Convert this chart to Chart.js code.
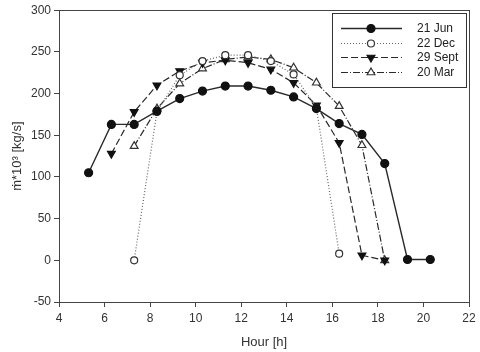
<!DOCTYPE html>
<html><head><meta charset="utf-8">
<script src="https://cdn.jsdelivr.net/npm/chart.js@4"></script>
<style>html,body{margin:0;padding:0;background:#fff}#wrap{width:480px;height:352px;position:relative}</style>
</head><body><div id="wrap"><canvas id="c" width="480" height="352"></canvas></div>
<script>
const seriesNames = ['21 Jun', '22 Dec', '29 Sept', '20 Mar'];
const junHours = [5.3, 6.3, 7.3, 8.3, 9.3, 10.3, 11.3, 12.3, 13.3, 14.3, 15.3, 16.3, 17.3, 18.3, 19.3, 20.3];
const junValues = [105, 163, 163, 179, 194, 203, 209, 209, 204, 196, 182, 164, 151, 116, 1, 1];
const decHours = [7.3, 8.3, 9.3, 10.3, 11.3, 12.3, 13.3, 14.3, 15.3, 16.3];
const decValues = [0, 178, 222, 239, 246, 246, 239, 223, 183, 8];
const septHours = [6.3, 7.3, 8.3, 9.3, 10.3, 11.3, 12.3, 13.3, 14.3, 15.3, 16.3, 17.3, 18.3];
const septValues = [128, 178, 210, 227, 237, 240, 237, 229, 213, 186, 141, 6, 0];
const marHours = [7.3, 8.3, 9.3, 10.3, 11.3, 12.3, 13.3, 14.3, 15.3, 16.3, 17.3, 18.3];
const marValues = [137, 182, 212, 230, 241, 244, 241, 231, 213, 185, 138, 0];
const xTickValues = [4, 6, 8, 10, 12, 14, 16, 18, 20, 22];
const yTickValues = [-50, 0, 50, 100, 150, 200, 250, 300];

const pts = (xs, ys) => xs.map((x, i) => ({x: x, y: ys[i]}));
const LINE = '#2a2a2a';
const FONT = 'Liberation Sans, Arial, sans-serif';

const styles = [
  {dash: [], style: 'circle', rot: 0, r: 4, fill: '#111', stroke: '#111'},
  {dash: [1, 2], style: 'circle', rot: 0, r: 3.5, fill: '#fff', stroke: '#333'},
  {dash: [7, 3], style: 'triangle', rot: 180, r: 4.5, fill: '#111', stroke: '#111'},
  {dash: [7, 2, 1, 2], style: 'triangle', rot: 0, r: 4.5, fill: '#fff', stroke: '#333'}
];
const dataList = [pts(junHours, junValues), pts(decHours, decValues), pts(septHours, septValues), pts(marHours, marValues)];

const datasets = dataList.map((d, i) => ({
  label: seriesNames[i],
  data: d,
  showLine: true,
  borderColor: i === 1 ? '#666' : LINE,
  borderWidth: i === 0 ? 1.4 : 1.2,
  borderDash: styles[i].dash,
  pointStyle: styles[i].style,
  rotation: styles[i].rot,
  pointRadius: styles[i].r,
  pointBackgroundColor: styles[i].fill,
  pointBorderColor: styles[i].stroke,
  pointBorderWidth: 1.2,
  tension: 0
}));

function drawMarker(ctx, s, x, y) {
  ctx.save();
  ctx.setLineDash([]);
  ctx.fillStyle = s.fill; ctx.strokeStyle = s.stroke; ctx.lineWidth = 1.2;
  ctx.beginPath();
  if (s.style === 'circle') {
    ctx.arc(x, y, s.r, 0, Math.PI * 2);
  } else {
    const r = s.r;
    const sign = s.rot === 180 ? -1 : 1;
    const a = Math.PI / 6;
    ctx.moveTo(x, y - sign * r);
    ctx.lineTo(x + r * Math.cos(a), y + sign * r * Math.sin(a));
    ctx.lineTo(x - r * Math.cos(a), y + sign * r * Math.sin(a));
    ctx.closePath();
  }
  ctx.fill(); ctx.stroke();
  ctx.restore();
}

const framePlugin = {
  id: 'frame',
  afterDatasetsDraw(chart) {
    const {ctx, chartArea: a} = chart;
    ctx.save();
    ctx.strokeStyle = '#444'; ctx.lineWidth = 1;
    ctx.strokeRect(Math.round(a.left) + 0.5, Math.round(a.top) + 0.5, Math.round(a.right - a.left), Math.round(a.bottom - a.top));
    // legend box
    const bx = 332, by = 13, bw = 134, bh = 74;
    ctx.fillStyle = '#fff';
    ctx.fillRect(bx, by, bw, bh);
    ctx.strokeStyle = '#333';
    ctx.strokeRect(bx + 0.5, by + 0.5, bw, bh);
    const rows = [28, 43, 57, 72];
    chart.data.datasets.forEach((ds, i) => {
      const y = rows[i];
      ctx.save();
      ctx.strokeStyle = ds.borderColor; ctx.lineWidth = ds.borderWidth;
      ctx.setLineDash(ds.borderDash);
      ctx.beginPath(); ctx.moveTo(341, y + 0.5); ctx.lineTo(402, y + 0.5); ctx.stroke();
      ctx.restore();
      drawMarker(ctx, styles[i], 371, y + 0.5);
      ctx.fillStyle = '#222';
      ctx.font = '12px ' + FONT;
      ctx.textBaseline = 'middle';
      ctx.textAlign = 'left';
      ctx.fillText(ds.label, 417, y + 1);
    });
    ctx.restore();
  }
};

new Chart(document.getElementById('c'), {
  type: 'scatter',
  data: {datasets: datasets},
  options: {
    responsive: false,
    animation: false,
    devicePixelRatio: 1,
    layout: {padding: {left: 0, right: 11, top: 8, bottom: 0}},
    plugins: {legend: {display: false}, tooltip: {enabled: false}},
    scales: {
      x: {
        type: 'linear', min: 4, max: 22,
        afterBuildTicks: s => { s.ticks = xTickValues.map(v => ({value: v})); },
        afterFit: s => { s.height = 50; },
        grid: {display: true, drawOnChartArea: false, drawTicks: true, tickLength: 5, color: '#444'},
        border: {display: false},
        ticks: {color: '#333', font: {family: FONT, size: 12}, padding: 4, maxRotation: 0, autoSkip: false},
        title: {display: true, text: 'Hour [h]', color: '#333', font: {family: FONT, size: 13}, padding: {top: 0, bottom: 2}}
      },
      y: {
        type: 'linear', min: -50, max: 300,
        afterBuildTicks: s => { s.ticks = yTickValues.map(v => ({value: v})); },
        afterFit: s => { s.width = 59; },
        grid: {display: true, drawOnChartArea: false, drawTicks: true, tickLength: 5, color: '#444'},
        border: {display: false},
        ticks: {color: '#333', font: {family: FONT, size: 12}, padding: 3, autoSkip: false},
        title: {display: true, text: 'ṁ*10³ [kg/s]', color: '#333', font: {family: FONT, size: 13}, padding: {top: 10, bottom: 0}}
      }
    }
  },
  plugins: [framePlugin]
});
</script>
</body></html>
